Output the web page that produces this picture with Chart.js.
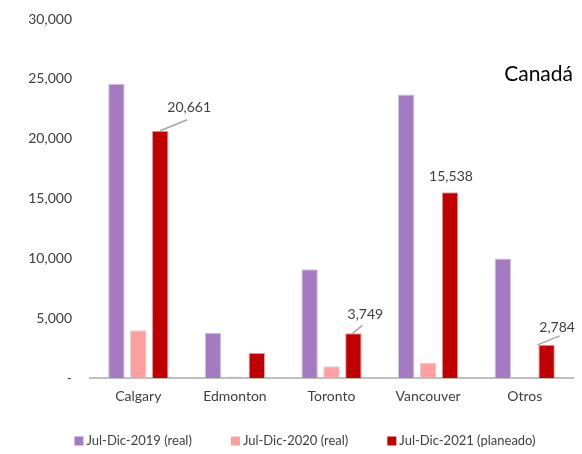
<!DOCTYPE html>
<html>
<head>
<meta charset="utf-8">
<script src="https://cdn.jsdelivr.net/npm/chart.js@4/dist/chart.umd.min.js"></script>
<style>
html,body{margin:0;padding:0;background:#fff;}
#wrap{width:582px;height:454px;position:relative;}
</style>
</head>
<body>
<div id="wrap"><canvas id="c" width="582" height="454"></canvas></div>
<script>
const categories = ["Calgary", "Edmonton", "Toronto", "Vancouver", "Otros"];
const seriesNames = ["Jul-Dic-2019 (real)", "Jul-Dic-2020 (real)", "Jul-Dic-2021 (planeado)"];
const values2019 = [24600, 3800, 9100, 23700, 10000];
const values2020 = [4000, 150, 1000, 1280, 0];
const values2021 = [20661, 2100, 3749, 15538, 2784];
const labeled2021 = [true, false, true, true, true];
const yTicks = [0, 5000, 10000, 15000, 20000, 25000, 30000];
const chartTitle = "Canadá";

const FONT = "Lato, 'Liberation Sans', sans-serif";
const fmt = v => v === 0 ? "-" : v.toLocaleString("en-US");

// label offset from bar top-center, and leader line start/end offsets
const labelOffsets = [
  {dx: 29, dy: -23, line: [0, 0, 27, -11]},
  null,
  {dx: 12, dy: -19, line: [-1, 0, 9, -8]},
  {dx: 1, dy: -16, line: null},
  {dx: 10.5, dy: -17, line: [-9, 0, 13, -9]}
];

const labelPlugin = {
  id: 'labels',
  afterDatasetsDraw(chart) {
    const ctx = chart.ctx;
    const meta = chart.getDatasetMeta(2);
    ctx.save();
    ctx.font = "14px " + FONT;
    ctx.textAlign = "center";
    ctx.textBaseline = "middle";
    meta.data.forEach((bar, i) => {
      if (!labeled2021[i]) return;
      const o = labelOffsets[i];
      const x = bar.x, y = bar.y;
      if (o.line) {
        ctx.strokeStyle = "#a6a6a6";
        ctx.lineWidth = 1.5;
        ctx.beginPath();
        ctx.moveTo(x + o.line[0], y + o.line[1]);
        ctx.lineTo(x + o.line[2], y + o.line[3]);
        ctx.stroke();
      }
      ctx.fillStyle = "#404040";
      ctx.fillText(fmt(values2021[i]), x + o.dx, y + o.dy);
    });
    ctx.font = "21px " + FONT;
    ctx.fillStyle = "#000";
    ctx.textAlign = "right";
    ctx.fillText(chartTitle, chart.chartArea.right, 74);
    ctx.restore();
  }
};

const legendPlugin = {
  id: 'customLegend',
  afterDraw(chart) {
    const ctx = chart.ctx;
    ctx.save();
    ctx.font = "13px " + FONT;
    ctx.textBaseline = "middle";
    ctx.textAlign = "left";
    const box = 9, gapText = 3, gapItem = 39;
    const items = chart.data.datasets.map(d => ({label: d.label, color: d.backgroundColor, w: box + gapText + ctx.measureText(d.label).width}));
    const total = items.reduce((s, it) => s + it.w, 0) + gapItem * (items.length - 1);
    let x = 305 - total / 2;
    const y = 441;
    items.forEach(it => {
      ctx.fillStyle = it.color;
      ctx.fillRect(x, y - box / 2, box, box);
      ctx.fillStyle = "#404040";
      ctx.fillText(it.label, x + box + gapText, y);
      x += it.w + gapItem;
    });
    ctx.restore();
  }
};

new Chart(document.getElementById('c'), {
  type: 'bar',
  data: {
    labels: categories,
    datasets: [
      {label: seriesNames[0], data: values2019, backgroundColor: "#a47bc2", borderColor: "#d0c4dc", borderWidth: {top:1,left:1,right:1,bottom:0}},
      {label: seriesNames[1], data: values2020, backgroundColor: "#ff9f9f", borderColor: "#cfcfcf", borderWidth: {top:1,left:1,right:1,bottom:0}},
      {label: seriesNames[2], data: values2021, backgroundColor: "#c00000", borderColor: "#d9a0a0", borderWidth: {top:1,left:1,right:1,bottom:0}}
    ]
  },
  options: {
    responsive: false,
    animation: false,
    devicePixelRatio: 1,
    categoryPercentage: 0.68,
    barPercentage: 0.75,
    layout: {padding: {left: 28, right: 9, top: 19, bottom: 39}},
    plugins: {
      legend: {display: false},
      tooltip: {enabled: false},
      title: {display: false}
    },
    scales: {
      x: {
        grid: {display: false, drawTicks: false},
        border: {display: true, color: "#bfbfbf", width: 2},
        ticks: {font: {family: FONT, size: 14}, color: "#404040", padding: 10}
      },
      y: {
        min: 0, max: 30000,
        afterBuildTicks: s => { s.ticks = yTicks.map(v => ({value: v})); },
        afterFit: s => { s.width = 62; s.paddingTop = 0; s.paddingBottom = 0; },
        grid: {display: false, drawTicks: false},
        border: {display: false},
        ticks: {font: {family: FONT, size: 14}, color: "#404040", padding: 18, callback: v => fmt(v)}
      }
    }
  },
  plugins: [labelPlugin, legendPlugin]
});
</script>
</body>
</html>
